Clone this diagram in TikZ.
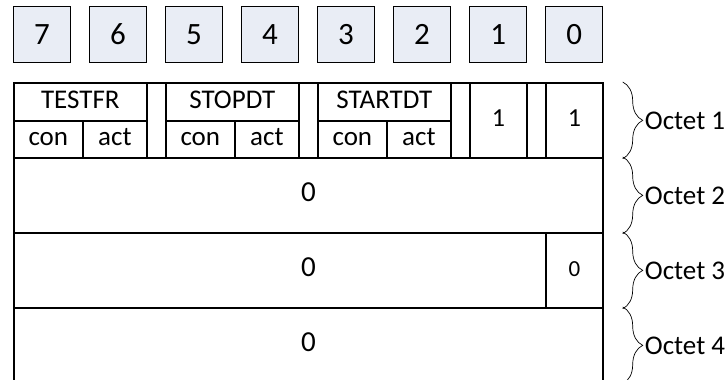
\documentclass[tikz,border=0pt]{standalone}
\usepackage{fontspec}
\setmainfont{Carlito}
\usetikzlibrary{decorations.pathreplacing}
\definecolor{bitfill}{HTML}{E9EDF5}

\tikzset{
  bitbox/.style={draw, line width=1.2pt, fill=bitfill, minimum width=57pt,
    minimum height=56pt, inner sep=0pt, anchor=north west,
    font=\fontsize{31}{31}\selectfont},
  cell/.style={draw, line width=1.7pt, inner sep=0pt, anchor=north west,
    text height=18pt, text depth=5pt, font=\fontsize{27}{27}\selectfont},
  octbrace/.style={decorate, decoration={brace, amplitude=20pt}, line width=0.7pt},
}

\begin{document}
\begin{tikzpicture}[x=1pt,y=-1pt]
\useasboundingbox (0,0) rectangle (728,380);
\clip (0,0) rectangle (728,380);

% bit numbers over the columns
\foreach \b in {0,...,7}
  \node[bitbox] (bit\b) at ({13+76*(7-\b)},6) {\b};

% octet 1
\node[cell, minimum width=589pt, minimum height=75pt] (oct1) at (13,82) {};
\foreach \name/\x/\txt in {testfr/13/TESTFR, stopdt/165/STOPDT, startdt/317/STARTDT} {
  \node[cell, minimum width=133pt, minimum height=38pt] (\name) at (\x,82) {\txt};
  \node[cell, minimum width=69pt, minimum height=37pt] (\name con) at (\x,120) {con};
  \node[cell, minimum width=64pt, minimum height=37pt] (\name act) at (\x+69,120) {act};
}
\node[cell, minimum width=57pt, minimum height=75pt, font=\fontsize{26}{26}\selectfont] (fix1) at (469,82) {1};
\node[cell, minimum width=57pt, minimum height=75pt, font=\fontsize{26}{26}\selectfont] (fix0) at (545,82) {1};

% octets 2 to 4
\foreach \i/\y in {2/157, 3/232, 4/307}
  \node[cell, minimum width=589pt, minimum height=75pt, font=\fontsize{29}{29}\selectfont] (oct\i) at (13,\y) {0};
\node[cell, minimum width=57pt, minimum height=75pt, font=\fontsize{23}{23}\selectfont] (oct3low) at (545,232) {0};

% braces and octet names
\foreach \i in {1,...,4} {
  \draw[octbrace] ([xshift=19pt]oct\i.north east) -- ([xshift=19pt]oct\i.south east);
  \node[anchor=west, inner sep=0pt, font=\fontsize{27}{27}\selectfont] (name\i) at ([xshift=41pt]oct\i.east) {Octet \i};
}
\end{tikzpicture}
\end{document}
